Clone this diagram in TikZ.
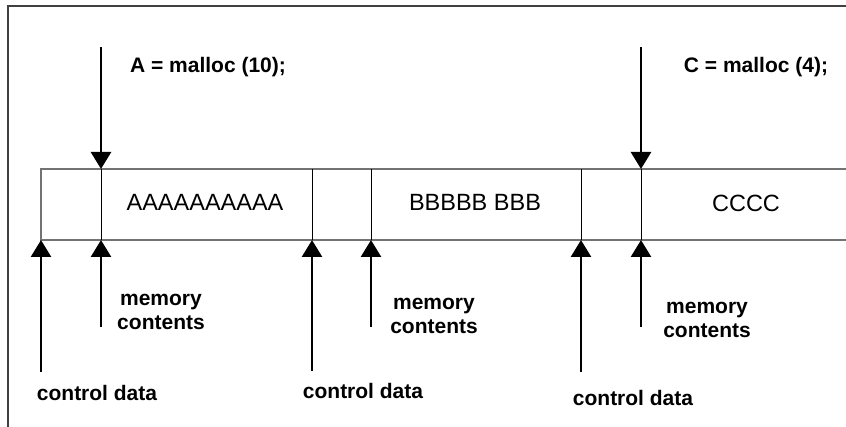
\documentclass[tikz,border=0pt]{standalone}
\usepackage{fontspec}
\setmainfont{Liberation Sans}
\usetikzlibrary{arrows.meta}
\begin{document}
\begin{tikzpicture}[x=1pt,y=-1pt,
  frameline/.style={draw=black!75, line width=1.5pt},
  stripline/.style={draw=black!55, line width=1.6pt},
  divider/.style={draw=black, line width=1pt},
  ptr/.style={line width=2.6pt, -{Triangle[width=20pt,length=17pt]}},
  lbl/.style={font=\fontsize{21}{24}\selectfont\bfseries, align=center, inner sep=0pt},
  blk/.style={font=\fontsize{23.5}{26}\selectfont, inner sep=0pt}]
\useasboundingbox (0,0) rectangle (846,427);
\fill[white] (0,0) rectangle (846,427);
% outer frame (only left and top edges visible)
\draw[frameline] (8,427) -- (8,6) -- (846,6);
% memory strip
\coordinate (tl) at (41,169);
\coordinate (bl) at (41,240);
\draw[stripline] (846,169) -- (tl) -- (bl) -- (846,240);
\foreach \n/\x in {1/101,2/312,3/371,4/581,5/641}{
  \coordinate (t\n) at (\x,169);
  \coordinate (b\n) at (\x,240);
  \draw[divider] (t\n) -- (b\n);
}
% block contents
\node[blk] (ablk) at (205,202) {AAAAAAAAAA};
\node[blk] (bblk) at (475,202) {BBBBB BBB};
\node[blk] (cblk) at (746,203) {CCCC};
% malloc calls
\coordinate (da) at (101,47);
\coordinate (dc) at (641,47);
\draw[ptr] (da) -- (t1);
\draw[ptr] (dc) -- (t5);
\node[lbl] (amal) at (208,67) {A = malloc (10);};
\node[lbl] (cmal) at (756,67) {C = malloc (4);};
% upward pointers
\coordinate (u0) at (41,372);
\coordinate (u1) at (101,327);
\coordinate (u2) at (312,371);
\coordinate (u3) at (371,327);
\coordinate (u4) at (581,372);
\coordinate (u5) at (641,327);
\draw[ptr] (u0) -- (bl);
\draw[ptr] (u1) -- (b1);
\draw[ptr] (u2) -- (b2);
\draw[ptr] (u3) -- (b3);
\draw[ptr] (u4) -- (b4);
\draw[ptr] (u5) -- (b5);
% labels
\node[lbl] (cd1) at (97,393) {control data};
\node[lbl] (cd2) at (363,391) {control data};
\node[lbl] (cd3) at (633,398) {control data};
\node[lbl] (mc1) at (161,312) {memory\\contents};
\node[lbl] (mc2) at (434,316) {memory\\contents};
\node[lbl] (mc3) at (707,320) {memory\\contents};
\end{tikzpicture}
\end{document}
